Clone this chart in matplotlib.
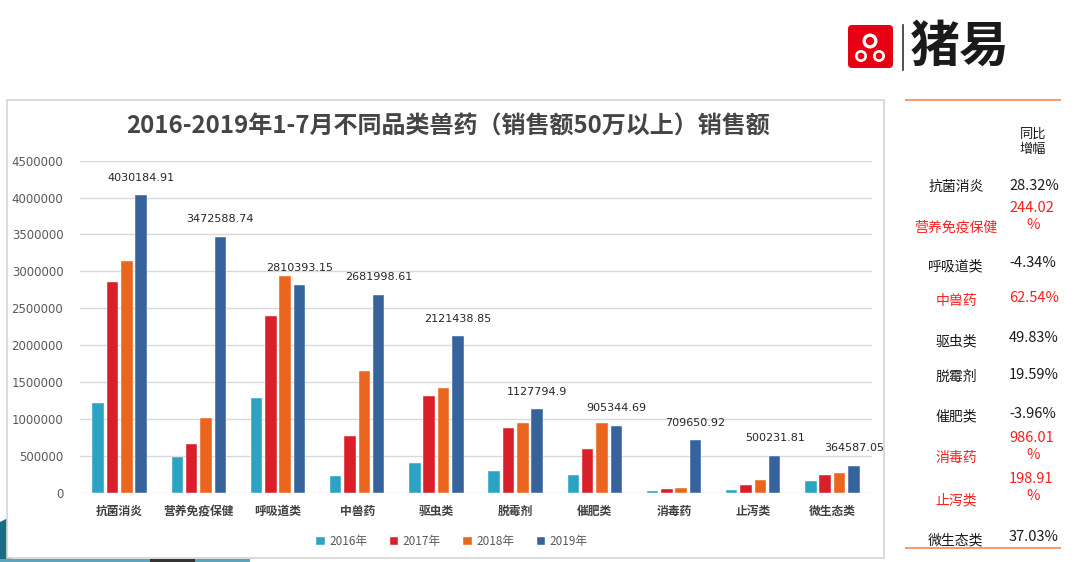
import matplotlib
matplotlib.use("Agg")
import matplotlib.pyplot as plt
import numpy as np
from matplotlib.patches import Rectangle, FancyBboxPatch, Circle, Polygon

plt.rcParams['font.family'] = ['Noto Sans CJK SC', 'DejaVu Sans']

# --- data ---
categories = ['抗菌消炎', '营养免疫保健', '呼吸道类', '中兽药', '驱虫类',
              '脱霉剂', '催肥类', '消毒药', '止泻类', '微生态类']
years = ['2016年', '2017年', '2018年', '2019年']
sales_2016 = [1211000, 479000, 1288000, 226000, 398000, 289000, 240000, 23000, 36000, 158000]
sales_2017 = [2860000, 660000, 2395000, 764000, 1310000, 872000, 587000, 50000, 108000, 240000]
sales_2018 = [3140800, 1009400, 2937900, 1650100, 1415900, 943100, 942700, 65300, 167400, 266100]
sales_2019 = [4030184.91, 3472588.74, 2810393.15, 2681998.61, 2121438.85,
              1127794.9, 905344.69, 709650.92, 500231.81, 364587.05]
label_2019 = ['4030184.91', '3472588.74', '2810393.15', '2681998.61', '2121438.85',
              '1127794.9', '905344.69', '709650.92', '500231.81', '364587.05']

growth_names = ['抗菌消炎', '营养免疫保健', '呼吸道类', '中兽药', '驱虫类',
                '脱霉剂', '催肥类', '消毒药', '止泻类', '微生态类']
growth_values = ['28.32%', '244.02\n%', '-4.34%', '62.54%', '49.83%',
                 '19.59%', '-3.96%', '986.01\n%', '198.91\n%', '37.03%']
growth_highlight = [False, True, False, True, False, False, False, True, True, False]

COLORS = ['#2ca3c2', '#da1f2a', '#ea661f', '#37639d']
RED_TXT = '#fa1e1e'

W, H = 1080, 562
fig = plt.figure(figsize=(W / 100, H / 100), dpi=100, facecolor='white')

# overlay in pixel coordinates for decorations
ov = fig.add_axes([0, 0, 1, 1], zorder=0)
ov.set_xlim(0, W)
ov.set_ylim(H, 0)
ov.axis('off')

# bottom-left decoration (behind the panel)
ov.add_patch(Polygon([(0, 522), (12, 516), (12, 562), (0, 562)], closed=True,
                     facecolor='#1b6d86', edgecolor='none'))
ov.add_patch(Polygon([(0, 559), (250, 559), (250, 562), (0, 562)], closed=True,
                     facecolor='#5aa5bb', edgecolor='none'))
ov.add_patch(Polygon([(150, 559), (195, 559), (195, 562), (150, 562)], closed=True,
                     facecolor='#333333', edgecolor='none'))

# chart panel border
ov.add_patch(Rectangle((7, 100), 877, 458, facecolor='white', edgecolor='#d4d4d4', linewidth=1.2))

# title
ov.text(448, 127, '2016-2019年1-7月不同品类兽药（销售额50万以上）销售额',
        ha='center', va='center', fontsize=17.3, fontweight='bold', color='#454545')

# logo
ov.add_patch(FancyBboxPatch((848, 25), 45, 43, boxstyle='round,pad=0,rounding_size=4',
                            facecolor='#e60012', edgecolor='none'))
for (cx, cy, r) in [(870, 41, 7.5), (861, 56, 6), (879, 56, 6)]:
    ov.add_patch(Circle((cx, cy), r, facecolor='white', edgecolor='none'))
    ov.add_patch(Circle((cx, cy), r * 0.55, facecolor='#e60012', edgecolor='none'))
ov.plot([903, 903], [25, 70], color='#333333', linewidth=1.2)
ov.text(960, 47, '猪易', ha='center', va='center', fontsize=36, fontweight='bold', color='#1a1a1a')

# right panel
ov.plot([906, 1060], [100, 100], color='#f0a070', linewidth=1.5)
ov.plot([906, 1060], [548, 548], color='#f0a070', linewidth=1.5)
ov.text(1033, 142, '同比\n增幅', ha='center', va='center', fontsize=9.5,
        color='#1a1a1a', linespacing=1.25)

label_y = [187, 228, 266, 301, 341, 377, 416, 458, 500, 540]
value_y = [186, 217, 263, 298, 338, 375, 414, 447, 488, 537]
for name, val, hl, ly, vy in zip(growth_names, growth_values, growth_highlight, label_y, value_y):
    col = RED_TXT if hl else '#1a1a1a'
    ov.text(956, ly, name, ha='center', va='center', fontsize=10, color=col)
    if '\n' in val:
        num, pct = val.split('\n')
        ov.text(1009, vy - 9, num, ha='left', va='center', fontsize=10.5, color=col)
        ov.text(1033, vy + 8, pct, ha='center', va='center', fontsize=10.5, color=col)
    else:
        ov.text(1009, vy, val, ha='left', va='center', fontsize=10.5, color=col)

# main chart
x0, x1, y_top, y_zero = 80, 872, 160.7, 492.7
ax = fig.add_axes([x0 / W, (H - y_zero) / H, (x1 - x0) / W, (y_zero - y_top) / H], zorder=1)
ax.set_facecolor('none')

x = np.arange(len(categories))
series = [sales_2016, sales_2017, sales_2018, sales_2019]
width = 0.145
step = 0.181
for i, (vals, col, yr) in enumerate(zip(series, COLORS, years)):
    ax.bar(x + (i - 1.5) * step, vals, width, color=col, label=yr, zorder=3,
           edgecolor='white', linewidth=0.3)

for xi, v, lab in zip(x, sales_2019, label_2019):
    ax.annotate(lab, (xi + 1.5 * step, v), xytext=(0, 9), textcoords='offset points',
                ha='center', va='bottom', fontsize=8, color='#262626', family='DejaVu Sans')

ax.set_xlim(-0.5, len(categories) - 0.5)
ax.set_ylim(0, 4500000)
ax.set_yticks(np.arange(0, 4500001, 500000))
ax.set_yticklabels([str(v) for v in range(0, 4500001, 500000)], fontsize=8.5,
                   color='#595959', family='DejaVu Sans')
ax.set_xticks(x)
ax.set_xticklabels(categories, fontsize=8.5, fontweight='bold', color='#404040')
ax.tick_params(axis='both', length=0)
ax.tick_params(axis='y', pad=12)
ax.tick_params(axis='x', pad=9)
ax.grid(axis='y', color='#d9d9d9', linewidth=1, zorder=0)
for s in ax.spines.values():
    s.set_visible(False)

ax.legend(loc='upper center', bbox_to_anchor=(0.47, -0.095), ncol=4, frameon=False,
          fontsize=8.5, handlelength=0.7, handleheight=0.7, columnspacing=1.9,
          handletextpad=0.4, labelcolor='#595959')

fig.savefig('out.png', dpi=100, facecolor='white')
